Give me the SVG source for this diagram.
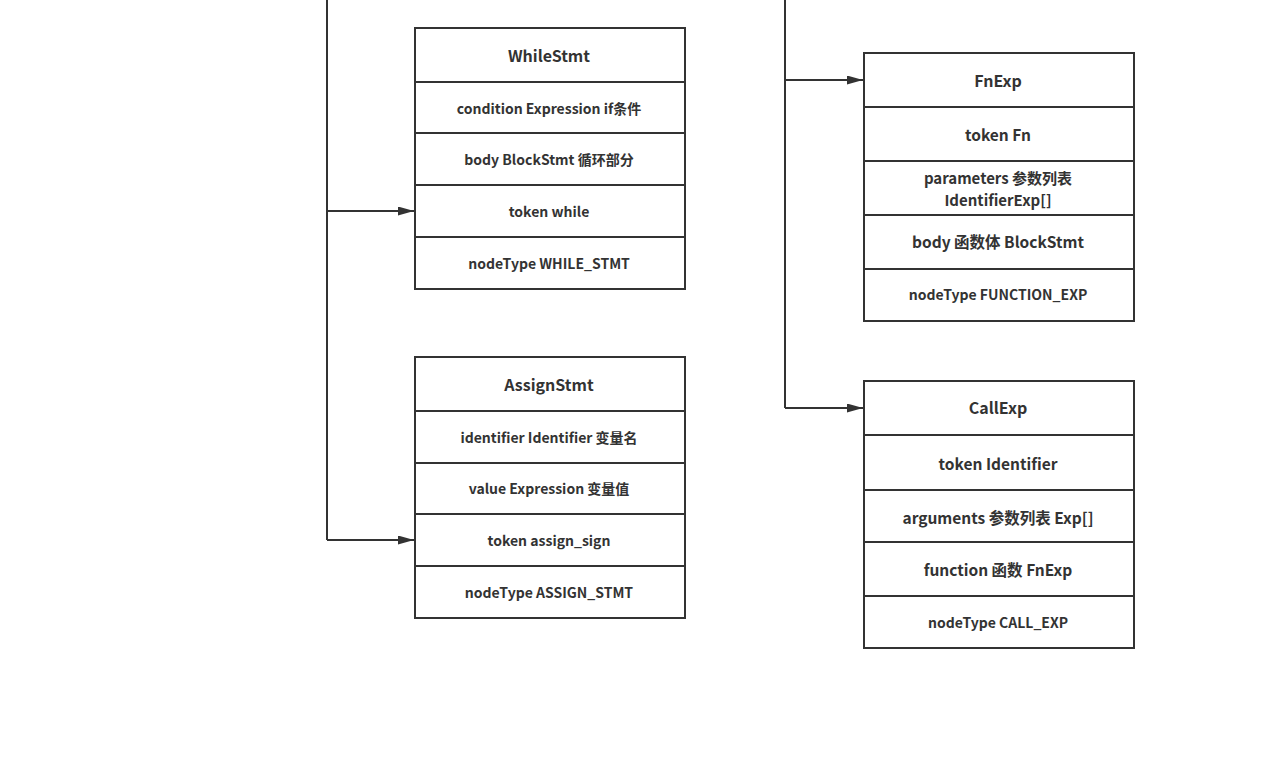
<svg xmlns="http://www.w3.org/2000/svg" width="1261" height="779" viewBox="0 0 1261 779">
  <style>
    .box { fill: #ffffff; stroke: #333333; stroke-width: 2; }
    .sep { stroke: #333333; stroke-width: 2; }
    .edge { fill: none; stroke: #333333; stroke-width: 2; }
    text { font-family: "Noto Sans CJK SC", "Noto Sans", sans-serif; font-weight: bold; fill: #333333; text-anchor: middle; dominant-baseline: central; }
    .h { font-size: 16px; }
    .m { font-size: 15.5px; }
    .p { font-size: 15px; }
    .s { font-size: 14px; }
  </style>
  <defs>
    <marker id="arrow" markerWidth="16" markerHeight="9" refX="16" refY="4.5" orient="auto" markerUnits="userSpaceOnUse">
      <path d="M0,0 L16,4.5 L0,9 Z" fill="#333333"/>
    </marker>
  </defs>
  <rect width="1261" height="779" fill="#ffffff"/>

  <g id="connectors">
    <path class="edge" d="M327,0 V540"/>
    <path class="edge" d="M327,211 H414" marker-end="url(#arrow)"/>
    <path class="edge" d="M327,540 H414" marker-end="url(#arrow)"/>
    <path class="edge" d="M785,0 V408"/>
    <path class="edge" d="M785,80 H863" marker-end="url(#arrow)"/>
    <path class="edge" d="M785,408 H863" marker-end="url(#arrow)"/>
  </g>

  <g id="while-stmt">
    <rect class="box" x="415" y="28" width="270" height="261"/>
    <line class="sep" x1="415" y1="82" x2="685" y2="82"/>
    <line class="sep" x1="415" y1="133" x2="685" y2="133"/>
    <line class="sep" x1="415" y1="185" x2="685" y2="185"/>
    <line class="sep" x1="415" y1="237" x2="685" y2="237"/>
    <text class="h" x="549" y="55">WhileStmt</text>
    <text class="s" x="549" y="108">condition Expression if条件</text>
    <text class="s" x="549" y="159">body BlockStmt 循环部分</text>
    <text class="s" x="549" y="211">token while</text>
    <text class="s" x="549" y="263">nodeType WHILE_STMT</text>
  </g>

  <g id="assign-stmt">
    <rect class="box" x="415" y="357" width="270" height="261"/>
    <line class="sep" x1="415" y1="411" x2="685" y2="411"/>
    <line class="sep" x1="415" y1="463" x2="685" y2="463"/>
    <line class="sep" x1="415" y1="514" x2="685" y2="514"/>
    <line class="sep" x1="415" y1="566" x2="685" y2="566"/>
    <text class="h" x="549" y="384">AssignStmt</text>
    <text class="s" x="549" y="437">identifier Identifier 变量名</text>
    <text class="s" x="549" y="488">value Expression 变量值</text>
    <text class="s" x="549" y="540">token assign_sign</text>
    <text class="s" x="549" y="592">nodeType ASSIGN_STMT</text>
  </g>

  <g id="fn-exp">
    <rect class="box" x="864" y="53" width="270" height="268"/>
    <line class="sep" x1="864" y1="107" x2="1134" y2="107"/>
    <line class="sep" x1="864" y1="161" x2="1134" y2="161"/>
    <line class="sep" x1="864" y1="215" x2="1134" y2="215"/>
    <line class="sep" x1="864" y1="269" x2="1134" y2="269"/>
    <text class="h" x="998" y="80">FnExp</text>
    <text class="m" x="998" y="134">token Fn</text>
    <text class="p" x="998" y="177">parameters 参数列表<tspan x="998" dy="22">IdentifierExp[]</tspan></text>
    <text class="m" x="998" y="241">body 函数体 BlockStmt</text>
    <text class="s" x="998" y="294">nodeType FUNCTION_EXP</text>
  </g>

  <g id="call-exp">
    <rect class="box" x="864" y="381" width="270" height="267"/>
    <line class="sep" x1="864" y1="435" x2="1134" y2="435"/>
    <line class="sep" x1="864" y1="490" x2="1134" y2="490"/>
    <line class="sep" x1="864" y1="542" x2="1134" y2="542"/>
    <line class="sep" x1="864" y1="596" x2="1134" y2="596"/>
    <text class="h" x="998" y="407">CallExp</text>
    <text class="m" x="998" y="463">token Identifier</text>
    <text class="m" x="998" y="517">arguments 参数列表 Exp[]</text>
    <text class="m" x="998" y="569">function 函数 FnExp</text>
    <text class="s" x="998" y="622">nodeType CALL_EXP</text>
  </g>
</svg>
